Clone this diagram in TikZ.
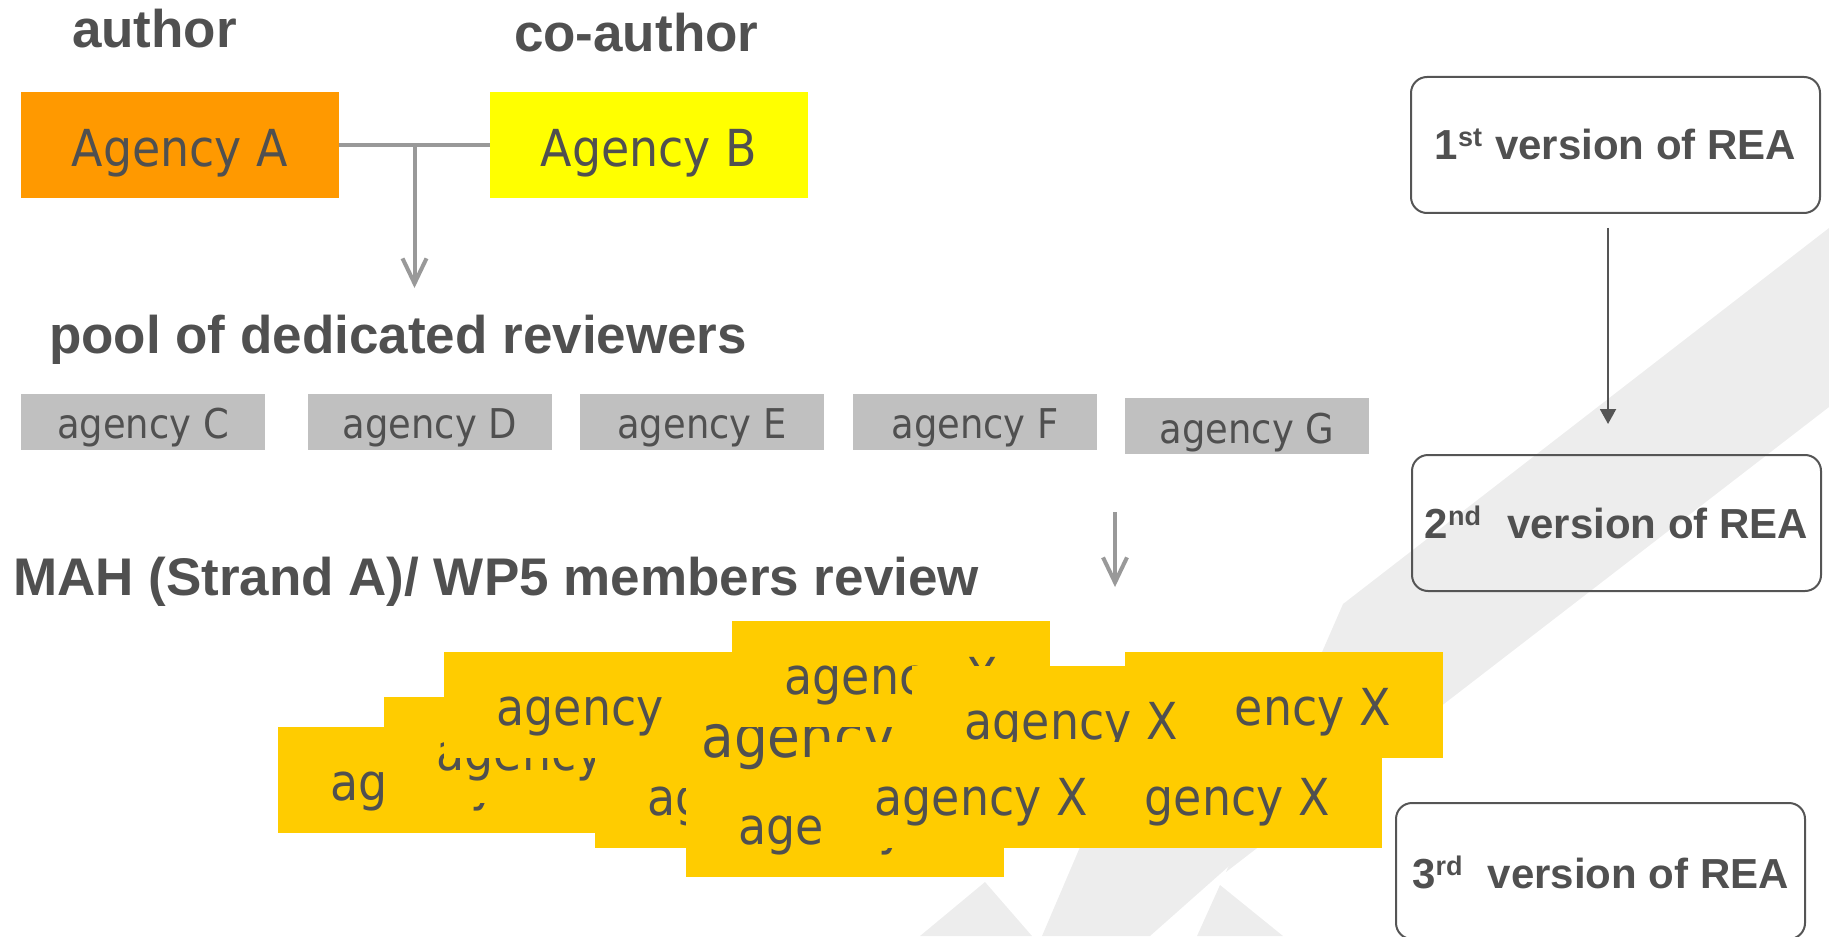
\documentclass[tikz,border=0pt]{standalone}
\usepackage{fontspec}
\setmainfont{Liberation Sans}
\newfontfamily\tah[FakeStretch=0.9]{DejaVu Sans}
\usetikzlibrary{arrows.meta,calc}
\definecolor{txt}{HTML}{505050}
\definecolor{orA}{HTML}{FF9900}
\definecolor{yeB}{HTML}{FFFF00}
\definecolor{yel}{HTML}{FFCC00}
\definecolor{gbox}{HTML}{C0C0C0}
\definecolor{gline}{HTML}{999999}
\definecolor{dline}{HTML}{555555}
\definecolor{bgg}{HTML}{EDEDED}
\tikzset{
  head/.style={inner sep=0, outer sep=0, text=txt, anchor=base west,
    font=\fontsize{26.5pt}{30pt}\selectfont\bfseries},
  agbox/.style={inner sep=0, outer sep=0, minimum width=159pt, minimum height=53pt,
    text=txt, font=\tah\fontsize{25.5pt}{28pt}\selectfont, text height=22pt, text depth=0pt},
  poolbox/.style={fill=gbox, inner sep=0, outer sep=0, minimum width=122pt, minimum height=28pt,
    text=txt, font=\tah\fontsize{20.5pt}{24pt}\selectfont, text height=16pt, text depth=0pt},
  ybox/.style={fill=yel, inner sep=0, outer sep=0, minimum width=159pt, minimum height=53pt,
    text=txt, font=\tah\fontsize{25.5pt}{28pt}\selectfont, text height=20pt, text depth=0pt},
  ybig/.style={ybox, font=\tah\fontsize{29.6pt}{32pt}\selectfont, text height=22pt},
  verbox/.style={draw=dline, line width=1pt, rounded corners=8pt, inner sep=0, outer sep=0,
    minimum width=204.5pt, minimum height=68pt, text=txt,
    font=\fontsize{21pt}{24pt}\selectfont\bfseries, text height=15pt, text depth=0pt},
  garrow/.style={draw=gline, line width=2pt},
  garrowtip/.style={garrow, -{Straight Barb[length=12.5pt, width=12pt]}},
  darrow/.style={draw=dline, line width=1pt, -{Triangle[length=7.5pt, width=8pt]}},
}
\newcommand{\supx}[1]{\raisebox{6.5pt}{\fontsize{13.5pt}{14pt}\selectfont #1}}
\begin{document}
\begin{tikzpicture}[x=0.5pt, y=-0.5pt]
\useasboundingbox (0,0) rectangle (1829,936);
% background decoration
\fill[bgg] (1829,228) -- (1343,604) -- (1226,872) -- (1829,407) -- cycle;
\fill[bgg] (1042,936) -- (1095,812) -- (1290,812) -- (1150,936) -- cycle;
\fill[bgg] (1197,936) -- (1220,885) -- (1283,936) -- cycle;
\fill[bgg] (920,936) -- (985,882) -- (1032,936) -- cycle;

% headings
\node[head] (author) at (72,48) {author};
\node[head] (coauthor) at (514,52) {co-author};
\node[head] (pool) at (49,353) {pool of dedicated reviewers};
\node[head] (mah) at (13,595) {MAH (Strand A)/ WP5 members review};

% author boxes
\node[agbox, fill=orA] (A) at (180,145) {Agency A};
\node[agbox, fill=yeB] (B) at (649,145) {Agency B};
\draw[garrow] (A.east) -- (B.west);
\coordinate (join) at ($(A.east)!0.5!(B.west)$);
\coordinate (pooltip) at (415,288);
\draw[garrowtip] (join) -- (join |- pooltip);

% pool of reviewers
\node[poolbox] (C) at (143,422) {agency C};
\node[poolbox] (D) at (430,422) {agency D};
\node[poolbox] (E) at (702,422) {agency E};
\node[poolbox] (F) at (975,422) {agency F};
\node[poolbox, text height=17pt] (G) at (1247,426) {agency G};

\coordinate (revstart) at (1115,512);
\coordinate (revend) at (1115,587);
\draw[garrowtip] (revstart) -- (revend);

% stack of member agencies
\node[ybox] (y1) at (437,780) {agency X};
\node[ybox] (y2) at (543,750) {agency X};
\node[ybox] (y3) at (603,705) {agency X};
\node[ybox] (y5) at (754,795) {agency X};
\node[ybig] (y7) at (825,735) {agency X};
\node[ybox] (y4) at (891,674) {agency X};
\node[ybox] (y6) at (845,824) {agency X};
\node[ybox] (y11) at (1284,705) {agency X};
\node[ybox] (y9) at (1071,719) {agency X};
\node[ybox] (y10) at (1223,795) {agency X};
\node[ybox] (y8) at (981,795) {agency X};

% versions of REA
\node[verbox] (v1) at (1615.5,145) {1\supx{st}\hspace{6.5pt}version of REA};
\node[verbox] (v2) at (1616.5,523) {2\supx{nd}\hspace{13pt}version of REA};
\node[verbox, text height=17pt] (v3) at (1600.5,871) {3\supx{rd}\hspace{12.5pt}version of REA};
\draw[darrow, shorten <=7.5pt, shorten >=15.5pt] ([xshift=-3.75pt]v1.south) -- ([xshift=-3.75pt]v1.south |- v2.north);
\end{tikzpicture}
\end{document}
